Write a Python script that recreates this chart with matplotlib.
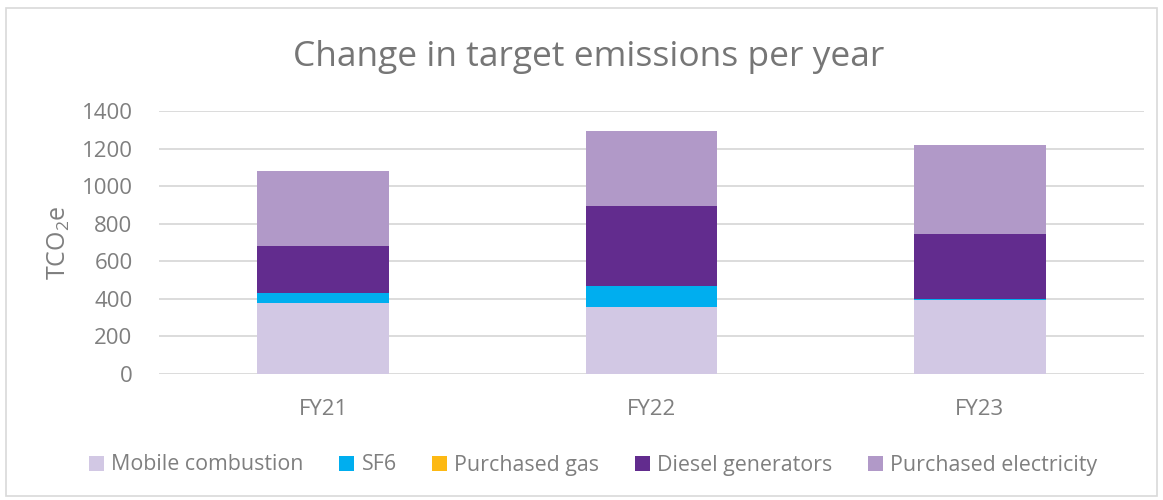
import matplotlib
matplotlib.use("Agg")
import matplotlib.pyplot as plt  # noqa: E402
import numpy as np  # noqa: E402
from matplotlib.patches import Rectangle  # noqa: E402

years = ["FY21", "FY22", "FY23"]
series = ["Mobile combustion", "SF6", "Purchased gas", "Diesel generators",
          "Purchased electricity"]
mobile = [376, 358, 395]
sf6 = [57, 109, 5]
gas = [0, 0, 0]
diesel = [248, 429, 345]
electricity = [401, 397, 474]
colors = ["#D2C8E4", "#00AEEF", "#FDB913", "#622C8E", "#B199C8"]

GREY = "#7F7F7F"
plt.rcParams["font.family"] = ["Open Sans", "DejaVu Sans"]
plt.rcParams["mathtext.fontset"] = "custom"
plt.rcParams["mathtext.rm"] = "Open Sans"
plt.rcParams["mathtext.it"] = "Open Sans"

fig = plt.figure(figsize=(11.63, 5.0), dpi=100)
ax = fig.add_axes([0.1367, 0.252, 0.847, 0.526])

x = np.arange(len(years))
bottom = np.zeros(len(years))
for name, vals, col in zip(series, [mobile, sf6, gas, diesel, electricity], colors):
    ax.bar(x, vals, width=0.40, bottom=bottom, color=col, label=name, zorder=2)
    bottom += np.array(vals)

ax.set_xlim(-0.5, 2.5)
ax.set_ylim(0, 1400)
ax.set_yticks(range(0, 1401, 200))
ax.set_xticks(x, years)
ax.grid(axis="y", color="#D9D9D9", lw=1.3, zorder=0)
ax.tick_params(length=0, labelsize=16, colors=GREY)
ax.tick_params(axis="y", pad=19)
ax.tick_params(axis="x", pad=18)
for s in ["top", "right", "left", "bottom"]:
    ax.spines[s].set_visible(False)

ax.set_ylabel("TCO$_2$e", fontsize=18, color=GREY, labelpad=7)
fig.text(0.506, 0.887, "Change in target emissions per year", ha="center",
         va="center", fontsize=25.5, color="#767676")
fig.legend(loc="center", bbox_to_anchor=(0.51, 0.07), ncol=5, frameon=False,
           fontsize=15.4, labelcolor=GREY, handlelength=0.7, handleheight=0.7,
           handletextpad=0.35, columnspacing=1.65)

fig.patches.append(Rectangle((0.005, 0.008), 0.99, 0.976, transform=fig.transFigure,
                             fill=False, edgecolor="#D9D9D9", lw=1.2))
fig.savefig("out.png", dpi=100)
